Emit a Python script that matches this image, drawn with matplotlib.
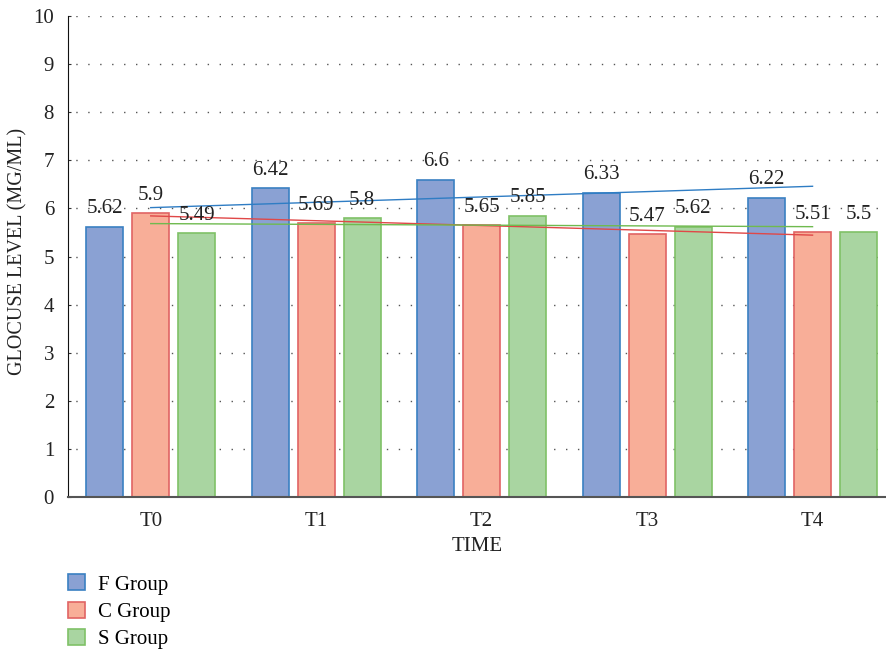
import numpy as np
import matplotlib
matplotlib.use("Agg")
import matplotlib.pyplot as plt
from matplotlib.patches import Patch

categories = ["T0", "T1", "T2", "T3", "T4"]
f_group = [5.62, 6.42, 6.6, 6.33, 6.22]
c_group = [5.9, 5.69, 5.65, 5.47, 5.51]
s_group = [5.49, 5.8, 5.85, 5.62, 5.5]
series_names = ["F Group", "C Group", "S Group"]

fills = ["#8aa1d3", "#f8ae98", "#a9d5a1"]
edges = ["#3a80c2", "#e06464", "#7fc167"]
trend_colors = ["#2f7dc4", "#e04848", "#6fba4f"]

plt.rcParams['font.family'] = ['Liberation Serif', 'DejaVu Serif']
FS = 15

fig = plt.figure(figsize=(8.87, 6.49), dpi=100)
ax = fig.add_axes([68/887, 1-497/649, 1-68/887, (497-16)/649])

x = np.arange(len(categories))
off = 0.278
w = 0.224
data = [f_group, c_group, s_group]
for i, (vals, fc, ec) in enumerate(zip(data, fills, edges)):
    xs = x + (i - 1) * off
    ax.bar(xs, vals, width=w, color=fc, edgecolor=ec, linewidth=1.2, label=series_names[i], zorder=2)
    for xi, v in zip(xs, vals):
        ax.annotate(f"{v:g}", (xi, v), xytext=(0, 6), textcoords="offset points",
                    ha="center", va="bottom", fontsize=FS, color="#222222", zorder=5)

for vals, tc in zip(data, trend_colors):
    p = np.polyfit(x, vals, 1)
    ax.plot([x[0], x[-1]], np.polyval(p, [x[0], x[-1]]), color=tc, linewidth=1.0, zorder=3)

ax.set_xlim(-0.5, 4.45)
ax.set_ylim(0, 10)
ax.set_yticks(range(0, 11))
ax.set_xticks(x)
ax.set_xticklabels(categories)
ax.tick_params(axis='x', length=0, labelsize=FS, colors="#222222", pad=11)
ax.tick_params(axis='y', length=2, direction='in', labelsize=FS, labelcolor="#222222",
               color="#333333", pad=10)
for y in range(1, 11):
    ax.axhline(y, color="#555555", linewidth=1.0, linestyle=(3, (1, 7.6)), zorder=1)
ax.spines['top'].set_visible(False)
ax.spines['right'].set_visible(False)
ax.spines['left'].set_color("#111111")
ax.spines['bottom'].set_color("#555555")
ax.spines['bottom'].set_linewidth(1.5)
ax.set_xlabel("TIME", fontsize=FS, color="#222222", labelpad=4)
ax.set_ylabel("GLOCUSE LEVEL (MG/ML)", fontsize=14.5, color="#222222")
ax.yaxis.set_label_coords(-0.049, 0.51)

handles = [Patch(facecolor=fc, edgecolor=ec, linewidth=1.2) for fc, ec in zip(fills, edges)]
fig.legend(handles, series_names, loc="upper left", bbox_to_anchor=(60/887, 1-566/649),
           frameon=False, fontsize=FS, handlelength=0.8, handleheight=0.8,
           labelspacing=0.34, handletextpad=0.6, borderaxespad=0)

fig.savefig("out.png", dpi=100)
